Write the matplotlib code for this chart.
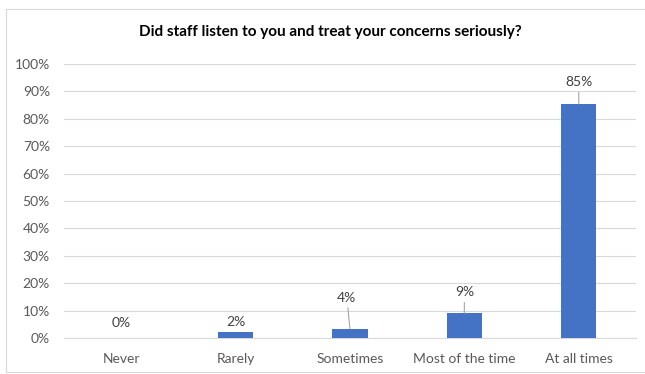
import matplotlib.pyplot as plt
from matplotlib.patches import Rectangle
from matplotlib.ticker import PercentFormatter

categories = ["Never", "Rarely", "Sometimes", "Most of the time", "At all times"]
values = [0.0, 2.1, 3.4, 9.0, 85.4]
labels = ["0%", "2%", "4%", "9%", "85%"]
# label offset from bar top in pixels (dx, dy) and whether excel drew a leader line
label_offsets = [(0, 15), (0, 10), (-3, 31), (0, 21), (0, 22)]
leader = [False, False, True, True, True]

BLUE = "#4472C4"
GREY_TXT = "#595959"

plt.rcParams["font.family"] = ["Lato", "DejaVu Sans"]

fig = plt.figure(figsize=(6.45, 3.74), dpi=100)
ax = fig.add_axes([0.099, 0.0963, 0.887, 0.7327])

x = range(len(categories))
ax.bar(x, values, width=0.31, color=BLUE, zorder=3)

for i, v in enumerate(values):
    dx, dy = label_offsets[i]
    props = dict(arrowstyle="-", color="#A6A6A6", lw=0.8, shrinkA=1, shrinkB=0) if leader[i] else None
    ax.annotate(labels[i], xy=(i, v), xytext=(dx, dy), textcoords="offset pixels",
                ha="center", va="center", fontsize=10, color="#404040",
                arrowprops=props, zorder=4)

ax.set_xlim(-0.5, len(categories) - 0.5)
ax.set_ylim(0, 100)
ax.set_yticks(range(0, 101, 10))
ax.yaxis.set_major_formatter(PercentFormatter(decimals=0))
ax.set_xticks(list(x))
ax.set_xticklabels(categories)
ax.tick_params(axis="both", length=0, labelsize=10, colors=GREY_TXT)
ax.tick_params(axis="y", pad=10)
ax.tick_params(axis="x", pad=11)
ax.grid(axis="y", color="#D9D9D9", lw=0.8, zorder=0)
for s in ["top", "right", "left"]:
    ax.spines[s].set_visible(False)
ax.spines["bottom"].set_color("#D9D9D9")
ax.spines["bottom"].set_linewidth(0.8)

fig.text(0.512, 0.914, "Did staff listen to you and treat your concerns seriously?",
         ha="center", va="center", fontsize=11, fontweight="bold", color="black")

# chart border
fig.patches.append(Rectangle((6 / 645, 0.005), 1.0, 1 - 9 / 374 - 0.005, transform=fig.transFigure,
                             fill=False, edgecolor="#D9D9D9", lw=0.8))

plt.savefig("out.png", dpi=100)
